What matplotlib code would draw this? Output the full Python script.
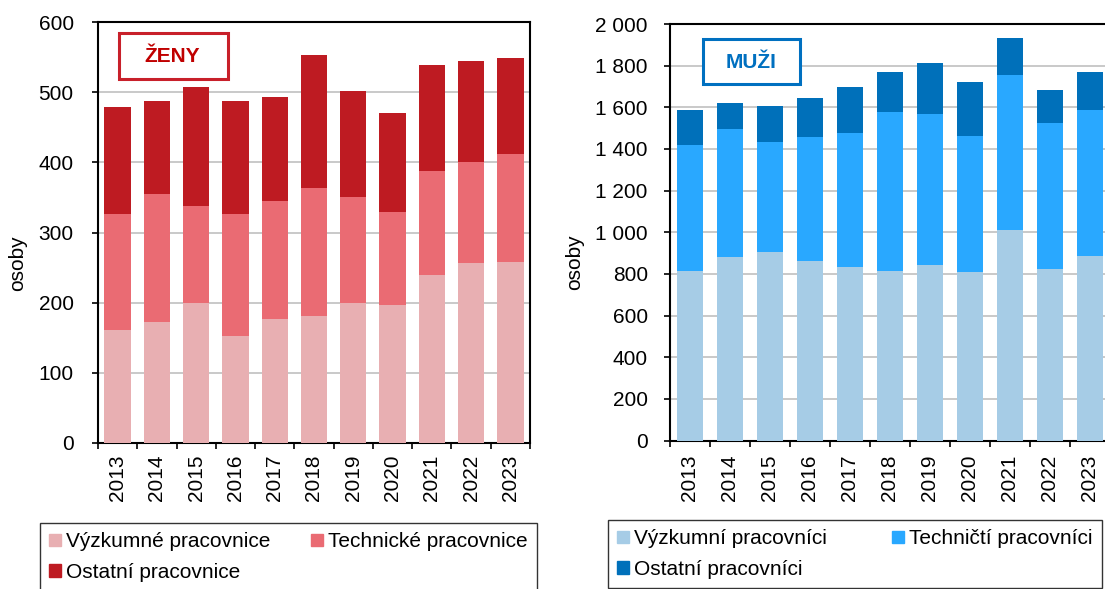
import numpy as np
import matplotlib
matplotlib.use("Agg")
import matplotlib.pyplot as plt
from matplotlib.patches import Patch, Rectangle
from matplotlib.ticker import FuncFormatter

plt.rcParams['font.family'] = ['Liberation Sans', 'DejaVu Sans']

years = ['2013', '2014', '2015', '2016', '2017', '2018', '2019', '2020', '2021', '2022', '2023']

# women (ženy)
zeny_vyzkum = [161, 173, 199, 152, 177, 181, 199, 197, 240, 257, 258]
zeny_tech = [166, 182, 139, 174, 168, 183, 152, 132, 147, 143, 154]
zeny_ostatni = [152, 133, 169, 162, 148, 189, 151, 141, 152, 144, 137]

# men (muži)
muzi_vyzkum = [814, 881, 905, 860, 835, 814, 843, 811, 1010, 824, 886]
muzi_tech = [606, 617, 529, 598, 643, 763, 726, 651, 746, 702, 702]
muzi_ostatni = [168, 125, 173, 188, 218, 191, 243, 258, 178, 157, 181]

labels_zeny = ['Výzkumné pracovnice', 'Technické pracovnice', 'Ostatní pracovnice']
labels_muzi = ['Výzkumní pracovníci', 'Techničtí pracovníci', 'Ostatní pracovníci']
colors_zeny = ['#E8AFB2', '#EA6B73', '#BE1B22']
colors_muzi = ['#A6CCE6', '#29A8FF', '#0070BA']

FS = 15
W, H = 1105, 589
fig = plt.figure(figsize=(W / 100, H / 100), dpi=100)

ax1 = fig.add_axes([98 / W, 1 - 443 / H, 432 / W, 421 / H])
ax2 = fig.add_axes([670 / W, 1 - 440.5 / H, 440 / W, 416.5 / H])


def draw(ax, series, colors, ymax, step, ypad, xpad):
    x = np.arange(len(years))
    bottom = np.zeros(len(years))
    for vals, c in zip(series, colors):
        ax.bar(x, vals, width=0.67, bottom=bottom, color=c, edgecolor='none', zorder=3)
        bottom = bottom + np.array(vals)
    ax.set_xlim(-0.5, len(years) - 0.5)
    ax.set_ylim(0, ymax)
    ax.set_yticks(np.arange(0, ymax + 1, step))
    ax.set_xticks(x)
    ax.set_xticklabels(years, rotation=90, fontsize=FS)
    ax.set_xticks(np.arange(-0.5, len(years), 1), minor=True)
    ax.tick_params(axis='x', which='major', length=0, pad=xpad)
    ax.tick_params(axis='x', which='minor', length=4.5, width=1.2, direction='out')
    ax.tick_params(axis='y', length=4.5, width=1.2, labelsize=FS, pad=ypad)
    ax.yaxis.grid(True, color='#C0C0C0', linewidth=1.2, zorder=0)
    for s in ax.spines.values():
        s.set_linewidth(1.5)
    ax.set_ylabel('osoby', fontsize=FS)


draw(ax1, [zeny_vyzkum, zeny_tech, zeny_ostatni], colors_zeny, 600, 100, 13, 8.5)
draw(ax2, [muzi_vyzkum, muzi_tech, muzi_ostatni], colors_muzi, 2000, 200, 11.5, 10)
ax2.yaxis.set_major_formatter(FuncFormatter(lambda v, p: f'{int(v):,}'.replace(',', ' ')))
ax1.yaxis.set_label_coords((27 - 98) / 432, (443 - 263) / 421)
ax2.yaxis.set_label_coords((584 - 670) / 440, (440.5 - 262) / 416.5)

# title boxes
fig.patches.append(Rectangle((119 / W, 1 - 79 / H), 109 / W, 46 / H, transform=fig.transFigure,
                             fc='white', ec='#C8202A', lw=2.2, zorder=5))
fig.text(172.5 / W, 1 - 56 / H, 'ŽENY', ha='center', va='center', fontsize=FS,
         fontweight='bold', color='#C00000', zorder=6)
fig.patches.append(Rectangle((703 / W, 1 - 84 / H), 97 / W, 45 / H, transform=fig.transFigure,
                             fc='white', ec='#0070C0', lw=2.2, zorder=5))
fig.text(751.5 / W, 1 - 62 / H, 'MUŽI', ha='center', va='center', fontsize=FS,
         fontweight='bold', color='#0070C0', zorder=6)

# legends (row order: first, second / third)
order = [0, 2, 1]
h1 = [Patch(color=colors_zeny[i]) for i in order]
h2 = [Patch(color=colors_muzi[i]) for i in order]
leg_kw = dict(ncol=2, fontsize=FS, frameon=True, fancybox=False, edgecolor='black',
              handlelength=0.55, handleheight=0.55, handletextpad=0.25, labelspacing=0.55,
              borderaxespad=0, borderpad=0.45, loc='upper left', mode='expand')
l1 = fig.legend(h1, [labels_zeny[i] for i in order],
                bbox_to_anchor=(40 / W, 0, 497 / W, 1 - 523 / H), **leg_kw)
l2 = fig.legend(h2, [labels_muzi[i] for i in order],
                bbox_to_anchor=(608 / W, 0, 494 / W, 1 - 520 / H), **leg_kw)
for l in (l1, l2):
    l.get_frame().set_linewidth(1.0)

fig.savefig('out.png', dpi=100)
